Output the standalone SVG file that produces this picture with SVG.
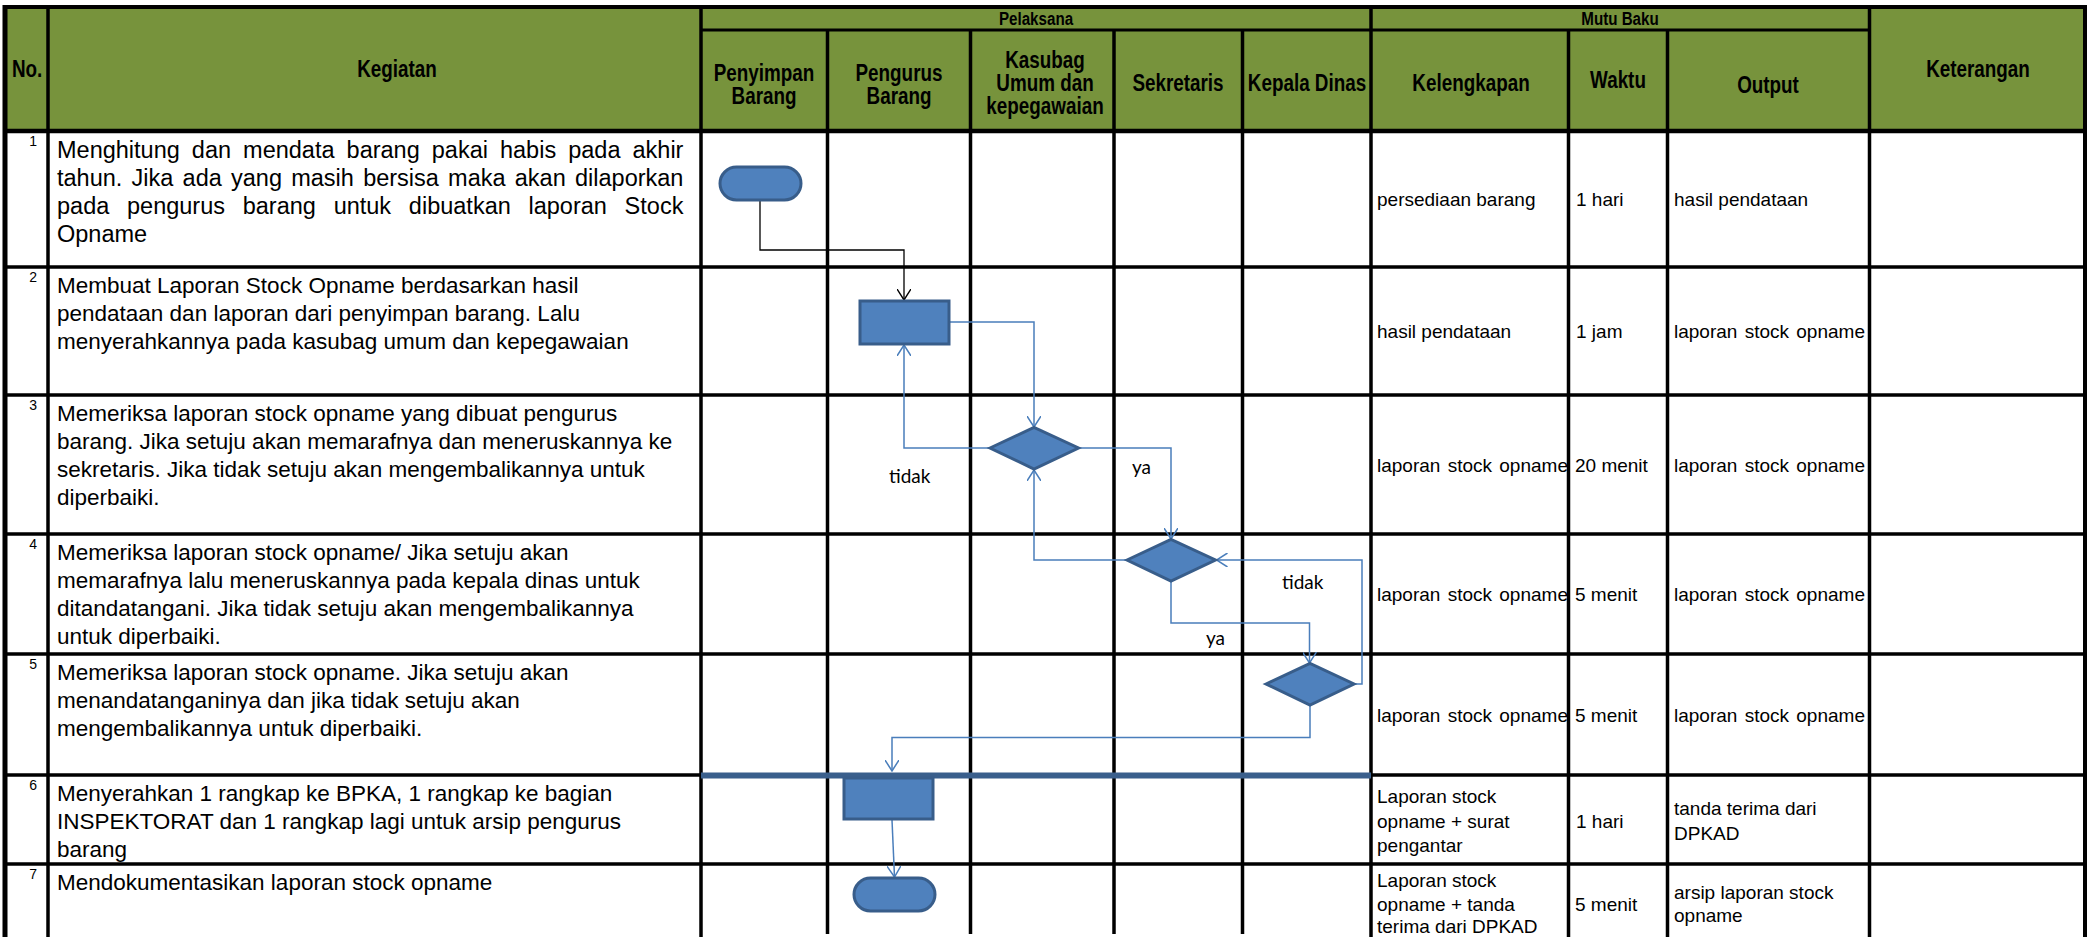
<svg xmlns="http://www.w3.org/2000/svg" width="2093" height="937" viewBox="0 0 2093 937">
<defs>
<style>
.grid{stroke:#000;stroke-width:3.5;fill:none}
.hd{font-family:"Liberation Sans",Arial,sans-serif;font-weight:bold;font-size:23px;fill:#000;text-anchor:middle}
.hs{font-family:"Liberation Sans",Arial,sans-serif;font-weight:bold;font-size:18.5px;fill:#000;text-anchor:middle}
.bt{font-family:"Liberation Sans",Arial,sans-serif;font-size:22.5px;fill:#000}
.bj{font-family:"Liberation Sans",Arial,sans-serif;font-size:23.5px;fill:#000}
.num{font-family:"Liberation Sans",Arial,sans-serif;font-size:14px;fill:#000;text-anchor:end}
.mt{font-family:"Liberation Sans",Arial,sans-serif;font-size:19px;fill:#000}
.lbl{font-family:Lato,"Liberation Sans",sans-serif;font-size:19px;fill:#000}
.shape{fill:#4F81BD;stroke:#385D8A;stroke-width:3}
.conn{fill:none;stroke:#4A7EBB;stroke-width:1.5}
.connk{fill:none;stroke:#000;stroke-width:1.3}
</style>
<marker id="arrB" viewBox="0 0 12 14" refX="11" refY="7" markerWidth="12" markerHeight="14" markerUnits="userSpaceOnUse" orient="auto">
<path d="M0,0 L11,7 L0,14" fill="none" stroke="#4A7EBB" stroke-width="1.5"/>
</marker>
<marker id="arrK" viewBox="0 0 12 14" refX="11" refY="7" markerWidth="12" markerHeight="14" markerUnits="userSpaceOnUse" orient="auto">
<path d="M0,0 L11,7 L0,14" fill="none" stroke="#000" stroke-width="1.4"/>
</marker>
</defs>
<rect width="2093" height="937" fill="#fff"/>
<g id="header">
<rect x="3" y="7" width="2084" height="124" fill="#77933C"/>
<text class="hd" transform="translate(12,77) scale(0.82,1)" style="text-anchor:start">No.</text>
<text class="hd" transform="translate(397,77) scale(0.82,1)">Kegiatan</text>
<text class="hs" transform="translate(1036,25) scale(0.82,1)">Pelaksana</text>
<text class="hs" transform="translate(1620,25) scale(0.82,1)">Mutu Baku</text>
<text class="hd" transform="translate(764,81) scale(0.82,1)">Penyimpan</text>
<text class="hd" transform="translate(764,104) scale(0.82,1)">Barang</text>
<text class="hd" transform="translate(899,81) scale(0.82,1)">Pengurus</text>
<text class="hd" transform="translate(899,104) scale(0.82,1)">Barang</text>
<text class="hd" transform="translate(1045,68) scale(0.82,1)">Kasubag</text>
<text class="hd" transform="translate(1045,91) scale(0.82,1)">Umum dan</text>
<text class="hd" transform="translate(1045,114) scale(0.82,1)">kepegawaian</text>
<text class="hd" transform="translate(1178,91) scale(0.82,1)">Sekretaris</text>
<text class="hd" transform="translate(1307,91) scale(0.82,1)">Kepala Dinas</text>
<text class="hd" transform="translate(1471,91) scale(0.82,1)">Kelengkapan</text>
<text class="hd" transform="translate(1618,88) scale(0.82,1)">Waktu</text>
<text class="hd" transform="translate(1768,93) scale(0.82,1)">Output</text>
<text class="hd" transform="translate(1978,77) scale(0.82,1)">Keterangan</text>
</g>
<g id="grid" class="grid">
<line x1="3" y1="7" x2="2087" y2="7" stroke-width="4"/>
<line x1="701" y1="30" x2="1869" y2="30" stroke-width="3"/>
<line x1="3" y1="131" x2="2087" y2="131" stroke-width="4.5"/>
<line x1="3" y1="267" x2="2087" y2="267"/>
<line x1="3" y1="395" x2="2087" y2="395"/>
<line x1="3" y1="534" x2="2087" y2="534"/>
<line x1="3" y1="654" x2="2087" y2="654"/>
<line x1="3" y1="775" x2="2087" y2="775"/>
<line x1="3" y1="864" x2="2087" y2="864"/>
<line x1="5" y1="5" x2="5" y2="937" stroke-width="5"/>
<line x1="48" y1="7" x2="48" y2="937"/>
<line x1="701" y1="7" x2="701" y2="937"/>
<line x1="827.5" y1="30" x2="827.5" y2="934"/>
<line x1="970.5" y1="30" x2="970.5" y2="934"/>
<line x1="1114" y1="30" x2="1114" y2="934"/>
<line x1="1242.5" y1="30" x2="1242.5" y2="934"/>
<line x1="1371" y1="7" x2="1371" y2="937"/>
<line x1="1568.5" y1="30" x2="1568.5" y2="937"/>
<line x1="1667.5" y1="30" x2="1667.5" y2="937"/>
<line x1="1869.5" y1="7" x2="1869.5" y2="937"/>
<line x1="2085" y1="5" x2="2085" y2="937" stroke-width="4"/>
</g>
<g id="rows">
<text class="num" x="37" y="146">1</text>
<text class="num" x="37" y="282">2</text>
<text class="num" x="37" y="410">3</text>
<text class="num" x="37" y="549">4</text>
<text class="num" x="37" y="669">5</text>
<text class="num" x="37" y="790">6</text>
<text class="num" x="37" y="879">7</text>
<text class="bj" x="57" y="158" word-spacing="5.5">Menghitung dan mendata barang pakai habis pada akhir</text>
<text class="bj" x="57" y="186" word-spacing="2.7">tahun. Jika ada yang masih bersisa maka akan dilaporkan</text>
<text class="bj" x="57" y="214" word-spacing="11.2">pada pengurus barang untuk dibuatkan laporan Stock</text>
<text class="bj" x="57" y="242">Opname</text>
<text class="bt" x="57" y="293">Membuat Laporan Stock Opname berdasarkan hasil</text>
<text class="bt" x="57" y="321">pendataan dan laporan dari penyimpan barang. Lalu</text>
<text class="bt" x="57" y="349">menyerahkannya pada kasubag umum dan kepegawaian</text>
<text class="bt" x="57" y="421">Memeriksa laporan stock opname yang dibuat pengurus</text>
<text class="bt" x="57" y="449">barang. Jika setuju akan memarafnya dan meneruskannya ke</text>
<text class="bt" x="57" y="477">sekretaris. Jika tidak setuju akan mengembalikannya untuk</text>
<text class="bt" x="57" y="505">diperbaiki.</text>
<text class="bt" x="57" y="560">Memeriksa laporan stock opname/ Jika setuju akan</text>
<text class="bt" x="57" y="588">memarafnya lalu meneruskannya pada kepala dinas untuk</text>
<text class="bt" x="57" y="616">ditandatangani. Jika tidak setuju akan mengembalikannya</text>
<text class="bt" x="57" y="644">untuk diperbaiki.</text>
<text class="bt" x="57" y="680">Memeriksa laporan stock opname. Jika setuju akan</text>
<text class="bt" x="57" y="708">menandatanganinya dan jika tidak setuju akan</text>
<text class="bt" x="57" y="736">mengembalikannya untuk diperbaiki.</text>
<text class="bt" x="57" y="801">Menyerahkan 1 rangkap ke BPKA, 1 rangkap ke bagian</text>
<text class="bt" x="57" y="829">INSPEKTORAT dan 1 rangkap lagi untuk arsip pengurus</text>
<text class="bt" x="57" y="857">barang</text>
<text class="bt" x="57" y="890">Mendokumentasikan laporan stock opname</text>
</g>
<g id="mutu">
<text class="mt" x="1377" y="206">persediaan barang</text>
<text class="mt" x="1576" y="206">1 hari</text>
<text class="mt" x="1674" y="206">hasil pendataan</text>
<text class="mt" x="1377" y="338">hasil pendataan</text>
<text class="mt" x="1576" y="338">1 jam</text>
<text class="mt" x="1674" y="338" word-spacing="2">laporan stock opname</text>
<text class="mt" x="1377" y="472" word-spacing="2">laporan stock opname</text>
<text class="mt" x="1575" y="472">20 menit</text>
<text class="mt" x="1674" y="472" word-spacing="2">laporan stock opname</text>
<text class="mt" x="1377" y="601" word-spacing="2">laporan stock opname</text>
<text class="mt" x="1575" y="601">5 menit</text>
<text class="mt" x="1674" y="601" word-spacing="2">laporan stock opname</text>
<text class="mt" x="1377" y="722" word-spacing="2">laporan stock opname</text>
<text class="mt" x="1575" y="722">5 menit</text>
<text class="mt" x="1674" y="722" word-spacing="2">laporan stock opname</text>
<text class="mt" x="1377" y="803">Laporan stock</text>
<text class="mt" x="1377" y="828">opname + surat</text>
<text class="mt" x="1377" y="852">pengantar</text>
<text class="mt" x="1576" y="828">1 hari</text>
<text class="mt" x="1674" y="815">tanda terima dari</text>
<text class="mt" x="1674" y="840">DPKAD</text>
<text class="mt" x="1377" y="887">Laporan stock</text>
<text class="mt" x="1377" y="911">opname + tanda</text>
<text class="mt" x="1377" y="933">terima dari DPKAD</text>
<text class="mt" x="1575" y="911">5 menit</text>
<text class="mt" x="1674" y="899">arsip laporan stock</text>
<text class="mt" x="1674" y="922">opname</text>
</g>
<g id="connectors">
<path class="connk" d="M760,200 V250 H904 V300" marker-end="url(#arrK)"/>
<path class="conn" d="M949,322 H1034 V427" marker-end="url(#arrB)"/>
<path class="conn" d="M990,448 H904 V345" marker-end="url(#arrB)"/>
<path class="conn" d="M1078.5,448 H1171 V539" marker-end="url(#arrB)"/>
<path class="conn" d="M1127,560 H1034 V470" marker-end="url(#arrB)"/>
<path class="conn" d="M1171,581 V623 H1309.5 V663" marker-end="url(#arrB)"/>
<path class="conn" d="M1354,684 H1362 V560 H1216.5" marker-end="url(#arrB)"/>
<path class="conn" d="M1310,705 V737.5 H892 V771" marker-end="url(#arrB)"/>
<path class="conn" d="M892,820 L894.5,877" marker-end="url(#arrB)"/>
<text class="lbl" x="889" y="483">tidak</text>
<text class="lbl" x="1132" y="474">ya</text>
<text class="lbl" x="1282" y="589">tidak</text>
<text class="lbl" x="1206" y="645">ya</text>
</g>
<g id="n-start"><rect class="shape" x="720" y="167" width="81" height="33" rx="16.5"/></g>
<g id="n-buat"><rect class="shape" x="860" y="301" width="89" height="43"/></g>
<g id="n-cek1"><polygon class="shape" points="990,448 1034,427.5 1078.5,448 1034,469"/></g>
<g id="n-cek2"><polygon class="shape" points="1127,560 1171,539.5 1215.5,560 1171,581"/></g>
<g id="n-cek3"><polygon class="shape" points="1266,684 1310,663.5 1354,684 1310,705"/></g>
<g id="n-bar"><line x1="701" y1="775.5" x2="1371" y2="775.5" stroke="#3A5F8C" stroke-width="6"/></g>
<g id="n-serah"><rect class="shape" x="844" y="778" width="89" height="41"/></g>
<g id="n-end"><rect class="shape" x="854" y="878" width="81" height="33" rx="16.5"/></g>
</svg>
